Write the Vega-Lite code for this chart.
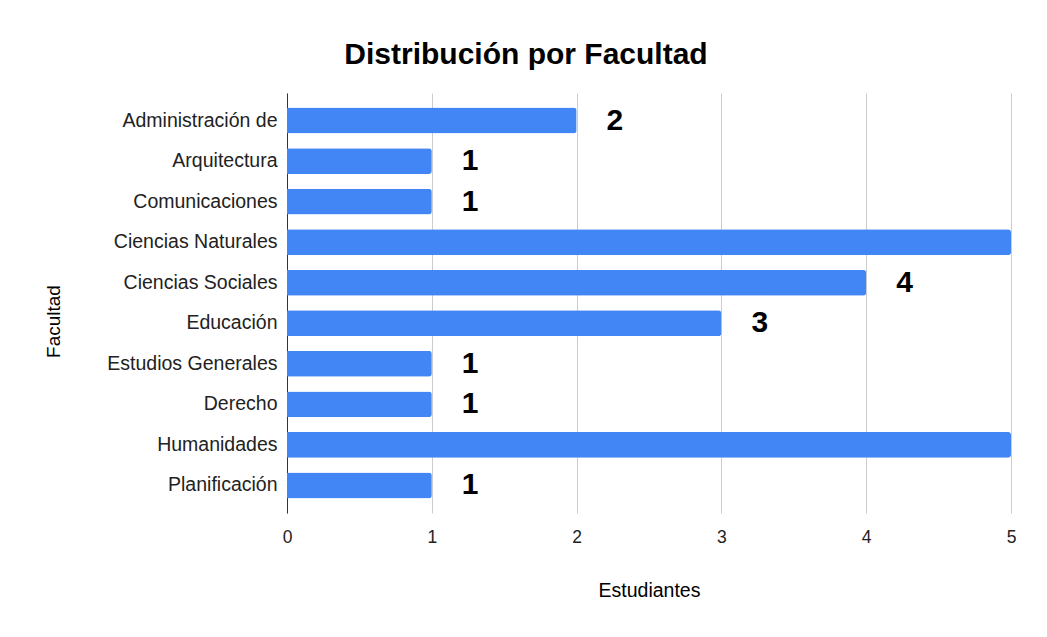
{
  "$schema": "https://vega.github.io/schema/vega-lite/v6.json",
  "autosize": {"type": "none"},
  "padding": {"left": 287, "top": 93, "right": 36, "bottom": 124},
  "width": 724,
  "height": 420,
  "background": "white",
  "config": {
    "font": "Liberation Sans",
    "view": {"stroke": null}
  },
  "title": {
    "text": "Distribución por Facultad",
    "font": "Liberation Sans",
    "fontSize": 30,
    "fontWeight": "bold",
    "color": "#000000",
    "anchor": "middle",
    "frame": "group",
    "dx": -123,
    "dy": 28,
    "baseline": "alphabetic",
    "offset": 27
  },
  "data": {
    "values": [
      {"facultad": "Administración de", "estudiantes": 2},
      {"facultad": "Arquitectura", "estudiantes": 1},
      {"facultad": "Comunicaciones", "estudiantes": 1},
      {"facultad": "Ciencias Naturales", "estudiantes": 5},
      {"facultad": "Ciencias Sociales", "estudiantes": 4},
      {"facultad": "Educación", "estudiantes": 3},
      {"facultad": "Estudios Generales", "estudiantes": 1},
      {"facultad": "Derecho", "estudiantes": 1},
      {"facultad": "Humanidades", "estudiantes": 5},
      {"facultad": "Planificación", "estudiantes": 1}
    ]
  },
  "encoding": {
    "y": {
      "field": "facultad",
      "type": "nominal",
      "sort": null,
      "scale": {"paddingInner": 0.36, "paddingOuter": 0.36},
      "axis": {
        "title": "Facultad",
        "titleFont": "Liberation Sans",
        "titleFontSize": 19,
        "titleFontWeight": "normal",
        "titleColor": "#000000",
        "titleAngle": -90,
        "titleX": -234,
        "titleY": 228,
        "titleAlign": "center",
        "titleBaseline": "middle",
        "labelFont": "Liberation Sans",
        "labelFontSize": 19.5,
        "labelColor": "#222222",
        "labelPadding": 10,
        "ticks": false,
        "tickSize": 0,
        "domainColor": "#333333",
        "domainWidth": 1,
        "grid": false,
        "labelLimit": 300
      }
    },
    "x": {
      "field": "estudiantes",
      "type": "quantitative",
      "scale": {"domain": [0, 5], "nice": false},
      "axis": {
        "title": "Estudiantes",
        "titleFont": "Liberation Sans",
        "titleFontSize": 19.5,
        "titleFontWeight": "normal",
        "titleColor": "#000000",
        "titleY": 77,
        "titleBaseline": "middle",
        "values": [0, 1, 2, 3, 4, 5],
        "labelFont": "Liberation Sans",
        "labelFontSize": 17.5,
        "labelColor": "#222222",
        "labelPadding": 15,
        "labelFlush": false,
        "ticks": false,
        "tickSize": 0,
        "domain": false,
        "grid": true,
        "gridColor": "#cccccc",
        "gridWidth": 1
      }
    }
  },
  "layer": [
    {
      "mark": {"type": "bar", "color": "#4285F4", "cornerRadiusEnd": 3}
    },
    {
      "transform": [{"filter": "datum.estudiantes < 5"}],
      "mark": {
        "type": "text",
        "align": "left",
        "baseline": "middle",
        "dx": 30,
        "font": "Liberation Sans",
        "fontSize": 30,
        "fontWeight": "bold",
        "color": "#000000"
      },
      "encoding": {
        "text": {"field": "estudiantes", "type": "quantitative"}
      }
    }
  ]
}
